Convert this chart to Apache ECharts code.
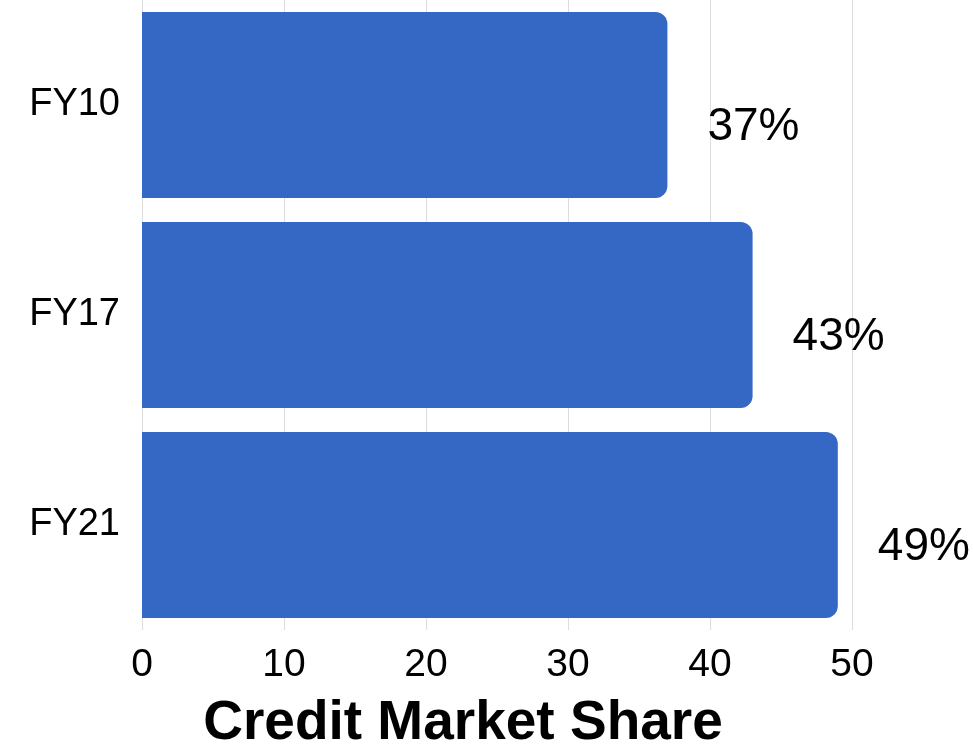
<!DOCTYPE html>
<html>
<head>
<meta charset="utf-8">
<script src="https://cdn.jsdelivr.net/npm/echarts@6/dist/echarts.min.js"></script>
<style>html,body{margin:0;padding:0;background:#fff}#c{width:973px;height:747px}</style>
</head>
<body>
<div id="c"></div>
<script>
const categories = ["FY10", "FY17", "FY21"];
const shareValues = [37, 43, 49];
const axisTitle = "Credit Market Share";

const chart = echarts.init(document.getElementById('c'));
chart.setOption({
  animation: false,
  backgroundColor: '#ffffff',
  grid: { left: 142, right: 121, top: 0, height: 630, containLabel: false, outerBoundsMode: 'none' },
  xAxis: {
    type: 'value', min: 0, max: 50, interval: 10,
    axisLine: { show: false }, axisTick: { show: false },
    splitLine: { show: true, lineStyle: { color: '#dcdcdc', width: 1 } },
    axisLabel: { fontFamily: 'Liberation Sans, Arial, sans-serif', fontSize: 39, color: '#000', margin: 16 },
    name: axisTitle, nameLocation: 'middle', nameGap: 66,
    nameTextStyle: { fontFamily: 'Liberation Sans, Arial, sans-serif', fontWeight: 'bold', fontSize: 55, color: '#000', padding: [0, 68, 0, 0] }
  },
  yAxis: {
    type: 'category', data: categories, inverse: true,
    axisLine: { show: false }, axisTick: { show: false },
    axisLabel: { fontFamily: 'Liberation Sans, Arial, sans-serif', fontSize: 38, color: '#000', margin: 22 }
  },
  series: [{
    type: 'bar', data: shareValues, barWidth: 186,
    itemStyle: { color: '#3468C4', borderRadius: [0, 12, 12, 0] },
    label: {
      show: true, position: 'right', distance: 40, offset: [0, 22],
      formatter: '{c}%', fontFamily: 'Liberation Sans, Arial, sans-serif', fontSize: 46, color: '#000'
    }
  }]
});
</script>
</body>
</html>
